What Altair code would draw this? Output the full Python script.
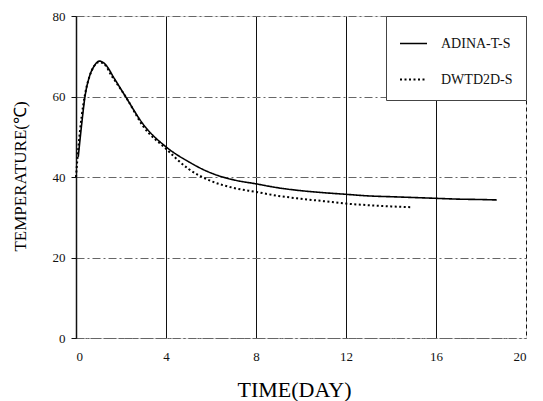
import altair as alt
import pandas as pd

series_names = ["ADINA-T-S", "DWTD2D-S"]

adina_day = [0.1, 0.25, 0.4, 0.6, 0.8, 1.05, 1.3, 1.7, 2.2, 3.0, 4.0, 5.0, 6.0, 7.0, 8.0,
             9.0, 10.0, 11.0, 12.0, 13.0, 14.0, 15.0, 16.0, 17.0, 18.0, 18.7]
adina_temp = [45, 53, 60, 65, 67.5, 68.8, 68, 64.5, 60, 53, 47.5, 43.8, 41, 39.3, 38.3,
              37.3, 36.6, 36.1, 35.7, 35.3, 35.1, 34.9, 34.7, 34.5, 34.4, 34.3]

dwtd_day = [0.0, 0.1, 0.25, 0.4, 0.6, 0.8, 1.0, 1.2, 1.6, 2.2, 3.0, 4.0, 5.0, 6.0, 7.0,
            8.0, 9.0, 10.0, 11.0, 12.0, 13.0, 14.0, 14.9]
dwtd_temp = [40, 47, 55, 60.5, 65, 67.5, 68.5, 68.3, 65, 60, 52.5, 47, 42, 39, 37.3,
             36.3, 35.3, 34.6, 34, 33.4, 33, 32.7, 32.5]

x_ticks = [0, 4, 8, 12, 16, 20]
y_ticks = [0, 20, 40, 60, 80]

df = pd.concat([
    pd.DataFrame({"day": adina_day, "temp": adina_temp, "series": series_names[0], "ord": range(len(adina_day))}),
    pd.DataFrame({"day": dwtd_day, "temp": dwtd_temp, "series": series_names[1], "ord": range(len(dwtd_day))}),
])

FONT = "Liberation Serif"

chart = alt.Chart(df).mark_line(interpolate="monotone").encode(
    x=alt.X("day:Q", scale=alt.Scale(domain=[0, 20], nice=False),
            axis=alt.Axis(values=x_ticks, title="TIME(DAY)", ticks=False, labelPadding=12,
                          grid=True, gridColor="#111", gridWidth=1,
                          gridDash={"condition": {"test": "datum.value == 20", "value": [4, 3]}, "value": []},
                          domainColor="#666", domainDash=[6, 3, 2, 3], domainWidth=1,
                          titleX=218, titleY=51, titleBaseline="middle", titleAlign="center",
                          titleFontSize=22, titleFontWeight="normal", titleFont=FONT,
                          labelFont=FONT, labelFontSize=13, labelColor="#111")),
    y=alt.Y("temp:Q", scale=alt.Scale(domain=[0, 80], nice=False),
            axis=alt.Axis(values=y_ticks, title="TEMPERATURE(℃)", ticks=True, tickSize=5,
                          tickColor="#111", labelPadding=6,
                          grid=True, gridColor="#666", gridWidth=1, gridDash=[8, 3, 2, 3],
                          domainColor="#111", domainWidth=1.5,
                          titleX=-56, titleY=160, titleBaseline="middle", titleAlign="center",
                          titleAngle=270,
                          titleFontSize=17, titleFontWeight="normal", titleFont=FONT,
                          labelFont=FONT, labelFontSize=13, labelColor="#111")),
    color=alt.Color("series:N", scale=alt.Scale(domain=series_names, range=["#000", "#000"]),
                    legend=alt.Legend(title=None, orient="top-right", offset=0,
                                      symbolType="stroke", symbolSize=729, symbolStrokeWidth=1.6,
                                      labelFont=FONT, labelFontSize=14, labelOffset=13,
                                      rowPadding=14, padding=13,
                                      strokeColor="#444", fillColor="white",
                                      labelColor="#111")),
    strokeDash=alt.StrokeDash("series:N", scale=alt.Scale(domain=series_names, range=[[1, 0], [2, 2.5]]),
                              legend=None),
    strokeWidth=alt.StrokeWidth("series:N", scale=alt.Scale(domain=series_names, range=[1.6, 2]),
                                legend=None),
    order="ord:Q",
).properties(
    width=450, height=322,
    padding={"left": 76, "top": 16, "right": 17, "bottom": 63},
    autosize=alt.AutoSizeParams(type="none"),
).configure_view(
    stroke="#666", strokeDash=[6, 3, 2, 3], strokeWidth=1
).configure(background="white")

chart.save("out.html", embed_options={"renderer": "svg", "actions": False})
